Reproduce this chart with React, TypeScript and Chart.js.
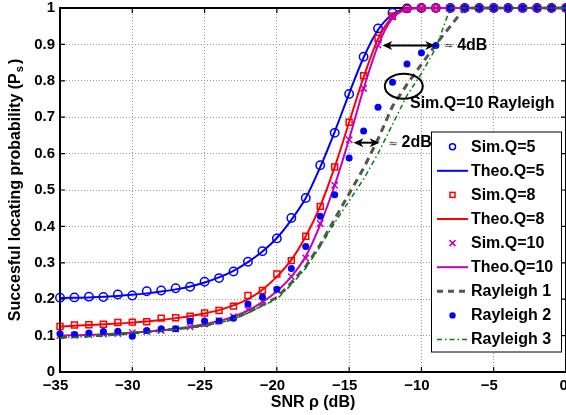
import React, { useEffect, useRef } from "react";
import { Chart, registerables } from "chart.js";

Chart.register(...registerables);

// ---------- data ----------
const snrDb = [-35, -34, -33, -32, -31, -30, -29, -28, -27, -26, -25, -24, -23, -22, -21, -20, -19, -18, -17, -16, -15, -14, -13, -12, -11, -10, -9, -8, -7, -6, -5, -4, -3, -2, -1, 0];

const simQ5 = [0.204, 0.205, 0.207, 0.206, 0.213, 0.210, 0.222, 0.224, 0.230, 0.234, 0.248, 0.258, 0.276, 0.303, 0.332, 0.367, 0.423, 0.478, 0.568, 0.657, 0.764, 0.866, 0.944, 0.987, 0.999, 1, 1, 1, 1, 1, 1, 1, 1, 1, 1, 1];
const theoQ5 = [0.203, 0.204, 0.205, 0.207, 0.209, 0.212, 0.216, 0.221, 0.227, 0.235, 0.246, 0.260, 0.278, 0.302, 0.331, 0.368, 0.418, 0.478, 0.563, 0.660, 0.765, 0.864, 0.940, 0.983, 0.998, 1, 1, 1, 1, 1, 1, 1, 1, 1, 1, 1];
const simQ8 = [0.125, 0.129, 0.130, 0.131, 0.136, 0.137, 0.138, 0.148, 0.149, 0.153, 0.162, 0.169, 0.181, 0.210, 0.224, 0.269, 0.306, 0.373, 0.455, 0.563, 0.686, 0.814, 0.917, 0.978, 0.998, 1, 1, 1, 1, 1, 1, 1, 1, 1, 1, 1];
const theoQ8 = [0.125, 0.127, 0.129, 0.131, 0.133, 0.136, 0.139, 0.143, 0.148, 0.154, 0.161, 0.170, 0.183, 0.200, 0.226, 0.262, 0.308, 0.373, 0.456, 0.563, 0.686, 0.810, 0.915, 0.976, 0.997, 1, 1, 1, 1, 1, 1, 1, 1, 1, 1, 1];
const simQ10 = [0.100, 0.101, 0.103, 0.104, 0.106, 0.108, 0.111, 0.114, 0.118, 0.124, 0.132, 0.141, 0.152, 0.172, 0.195, 0.225, 0.262, 0.313, 0.408, 0.513, 0.638, 0.779, 0.898, 0.975, 0.996, 1, 1, 1, 1, 1, 1, 1, 1, 1, 1, 1];
const theoQ10 = [0.100, 0.101, 0.102, 0.104, 0.106, 0.108, 0.111, 0.114, 0.118, 0.124, 0.131, 0.140, 0.152, 0.169, 0.192, 0.222, 0.262, 0.318, 0.405, 0.513, 0.640, 0.778, 0.897, 0.972, 0.996, 1, 1, 1, 1, 1, 1, 1, 1, 1, 1, 1];
const rayleigh1 = [0.095, 0.097, 0.099, 0.101, 0.104, 0.107, 0.110, 0.114, 0.118, 0.123, 0.128, 0.136, 0.146, 0.164, 0.184, 0.205, 0.245, 0.290, 0.350, 0.420, 0.490, 0.560, 0.640, 0.730, 0.790, 0.845, 0.900, 0.950, 1, 1, 1, 1, 1, 1, 1, 1];
const rayleigh2 = [0.105, 0.103, 0.107, 0.111, 0.112, 0.098, 0.114, 0.119, 0.119, 0.140, 0.140, 0.140, 0.148, 0.187, 0.206, 0.227, 0.284, 0.345, 0.428, 0.487, 0.588, 0.662, 0.727, 0.796, 0.846, 0.877, 0.897, 1, 1, 1, 1, 1, 1, 1, 1, 1];
const rayleigh3 = [0.094, 0.096, 0.098, 0.100, 0.103, 0.106, 0.109, 0.113, 0.117, 0.122, 0.127, 0.135, 0.145, 0.162, 0.182, 0.200, 0.240, 0.285, 0.345, 0.410, 0.470, 0.530, 0.600, 0.680, 0.760, 0.820, 0.890, 1, 1, 1, 1, 1, 1, 1, 1, 1];

const legendLabels = ["Sim.Q=5", "Theo.Q=5", "Sim.Q=8", "Theo.Q=8", "Sim.Q=10", "Theo.Q=10", "Rayleigh 1", "Rayleigh 2", "Rayleigh 3"];
const xTitle = "SNR \u03c1 (dB)";
const yTitleMain = "Succesful locating probability (P";
const yTitleSub = "s";
const yTitleEnd = ")";

// annotations, in data units
const arrow4dB = { from: -12.7, to: -9.05, y: 0.897, label: "4dB" };
const arrow2dB = { from: -14.7, to: -12.9, y: 0.63, label: "2dB" };
const ellipseMark = { x: -11.22, y: 0.785 };
const ellipseText = { x: -10.79, y: 0.738, label: "Sim.Q=10 Rayleigh" };

// ---------- styles ----------
const FONT = '"Liberation Sans", Arial, Helvetica, sans-serif';
const BLUE = "#0000ff";
const RED = "#ff0000";
const MAG = "#c400c4";
const GRAY = "#555555";
const GREEN = "#008000";

type Kind = "circle" | "line" | "rect" | "cross" | "dashed" | "dot" | "dashdot";
const legendKinds: { kind: Kind; color: string }[] = [
  { kind: "circle", color: BLUE },
  { kind: "line", color: BLUE },
  { kind: "rect", color: RED },
  { kind: "line", color: RED },
  { kind: "cross", color: MAG },
  { kind: "line", color: MAG },
  { kind: "dashed", color: GRAY },
  { kind: "dot", color: BLUE },
  { kind: "dashdot", color: GREEN },
];

const pts = (arr: number[]) => snrDb.map((x, i) => ({ x, y: arr[i] }));

const overlayPlugin = {
  id: "overlay",
  beforeDatasetsDraw(chart: any) {
    const { ctx, chartArea: ca, scales } = chart;
    ctx.save();
    ctx.strokeStyle = "#000";
    ctx.lineWidth = 2;
    ctx.setLineDash([]);
    ctx.strokeRect(ca.left, ca.top, ca.right - ca.left, ca.bottom - ca.top);
    ctx.lineWidth = 1.2;
    const tl = 5;
    scales.x.ticks.forEach((t: any) => {
      const px = scales.x.getPixelForValue(t.value);
      ctx.beginPath();
      ctx.moveTo(px, ca.bottom);
      ctx.lineTo(px, ca.bottom - tl);
      ctx.moveTo(px, ca.top);
      ctx.lineTo(px, ca.top + tl);
      ctx.stroke();
    });
    scales.y.ticks.forEach((t: any) => {
      const py = scales.y.getPixelForValue(t.value);
      ctx.beginPath();
      ctx.moveTo(ca.left, py);
      ctx.lineTo(ca.left + tl, py);
      ctx.moveTo(ca.right, py);
      ctx.lineTo(ca.right - tl, py);
      ctx.stroke();
    });
    ctx.restore();
  },
  afterDraw(chart: any) {
    const { ctx, chartArea: ca, scales } = chart;
    const xs = scales.x;
    const ys = scales.y;
    ctx.save();
    ctx.fillStyle = "#000";
    ctx.strokeStyle = "#000";

    // x title
    ctx.font = `bold 16px ${FONT}`;
    ctx.textAlign = "center";
    ctx.textBaseline = "alphabetic";
    ctx.fillText(xTitle, (ca.left + ca.right) / 2, 407);

    // y title with subscript
    ctx.save();
    ctx.translate(20, (ca.top + ca.bottom) / 2);
    ctx.rotate(-Math.PI / 2);
    ctx.textAlign = "left";
    ctx.font = `bold 16px ${FONT}`;
    const w1 = ctx.measureText(yTitleMain).width;
    const w3 = ctx.measureText(yTitleEnd).width;
    ctx.font = `bold 11px ${FONT}`;
    const w2 = ctx.measureText(yTitleSub).width;
    const total = w1 + w2 + 3 + w3;
    let tx = -total / 2;
    ctx.font = `bold 16px ${FONT}`;
    ctx.fillText(yTitleMain, tx, 0);
    tx += w1 + 1;
    ctx.font = `bold 11px ${FONT}`;
    ctx.fillText(yTitleSub, tx, 3);
    tx += w2 + 2;
    ctx.font = `bold 16px ${FONT}`;
    ctx.fillText(yTitleEnd, tx, 0);
    ctx.restore();

    // double arrows
    const drawHead = (tipX: number, y: number, dir: number) => {
      ctx.beginPath();
      ctx.moveTo(tipX, y);
      ctx.lineTo(tipX + dir * 10, y - 4.5);
      ctx.lineTo(tipX + dir * 7, y);
      ctx.lineTo(tipX + dir * 10, y + 4.5);
      ctx.closePath();
      ctx.fill();
    };
    const drawArrow = (a: { from: number; to: number; y: number; label: string }) => {
      const x1 = xs.getPixelForValue(a.from);
      const x2 = xs.getPixelForValue(a.to);
      const y = ys.getPixelForValue(a.y);
      ctx.lineWidth = 2;
      ctx.beginPath();
      ctx.moveTo(x1 + 6, y);
      ctx.lineTo(x2 - 6, y);
      ctx.stroke();
      drawHead(x1, y, 1);
      drawHead(x2, y, -1);
      ctx.textAlign = "left";
      ctx.textBaseline = "middle";
      ctx.fillStyle = "#333";
      ctx.font = `11px "DejaVu Sans", ${FONT}`;
      ctx.fillText("\u2248", x2 + 9, y + 1);
      ctx.fillStyle = "#000";
      ctx.font = `bold 16px ${FONT}`;
      ctx.fillText(a.label, x2 + 22, y);
    };
    drawArrow(arrow4dB);
    drawArrow(arrow2dB);

    // ellipse + text
    ctx.lineWidth = 2;
    ctx.beginPath();
    ctx.ellipse(xs.getPixelForValue(ellipseMark.x), ys.getPixelForValue(ellipseMark.y), 19, 12.5, 0, 0, Math.PI * 2);
    ctx.stroke();
    ctx.font = `bold 16px ${FONT}`;
    ctx.textAlign = "left";
    ctx.textBaseline = "middle";
    ctx.fillText(ellipseText.label, xs.getPixelForValue(ellipseText.x), ys.getPixelForValue(ellipseText.y));

    // legend
    const lx = 431.5, ly = 132, lw = 130, lh = 220;
    ctx.fillStyle = "#fff";
    ctx.fillRect(lx, ly, lw, lh);
    ctx.lineWidth = 1;
    ctx.strokeStyle = "#000";
    ctx.strokeRect(lx, ly, lw, lh);
    const rowH = 24.1;
    legendLabels.forEach((lab, i) => {
      const y = 146.7 + i * rowH;
      const k = legendKinds[i];
      const mx = 452.5;
      ctx.save();
      ctx.strokeStyle = k.color;
      ctx.fillStyle = k.color;
      ctx.setLineDash([]);
      if (k.kind === "circle") {
        ctx.lineWidth = 1.5;
        ctx.beginPath();
        ctx.arc(mx, y, 3, 0, Math.PI * 2);
        ctx.stroke();
      } else if (k.kind === "rect") {
        ctx.lineWidth = 1.5;
        ctx.strokeRect(mx - 2.5, y - 2.5, 5, 5);
      } else if (k.kind === "cross") {
        ctx.lineWidth = 1.5;
        ctx.beginPath();
        ctx.moveTo(mx - 3, y - 3);
        ctx.lineTo(mx + 3, y + 3);
        ctx.moveTo(mx + 3, y - 3);
        ctx.lineTo(mx - 3, y + 3);
        ctx.stroke();
      } else if (k.kind === "dot") {
        ctx.beginPath();
        ctx.arc(mx, y, 3.2, 0, Math.PI * 2);
        ctx.fill();
      } else {
        if (k.kind === "dashed") {
          ctx.lineWidth = 3;
          ctx.setLineDash([6, 5]);
        } else if (k.kind === "dashdot") {
          ctx.lineWidth = 1.5;
          ctx.setLineDash([5, 3, 1.5, 3]);
        } else {
          ctx.lineWidth = 2;
        }
        ctx.beginPath();
        ctx.moveTo(437, y);
        ctx.lineTo(468, y);
        ctx.stroke();
      }
      ctx.restore();
      ctx.fillStyle = "#000";
      ctx.font = `bold 16px ${FONT}`;
      ctx.textAlign = "left";
      ctx.textBaseline = "middle";
      ctx.fillText(lab, 471, y + 0.5);
    });
    ctx.restore();
  },
};

export default function App() {
  const ref = useRef<HTMLCanvasElement | null>(null);
  useEffect(() => {
    document.body.style.margin = "0";
    document.body.style.overflow = "hidden";
    const canvas = ref.current;
    if (!canvas) return;
    const tickFont = { family: FONT, size: 15, weight: "bold" as const };
    const chart = new Chart(canvas, {
      type: "line",
      data: {
        datasets: [
          { label: legendLabels[0], data: pts(simQ5), showLine: false, pointStyle: "circle", pointRadius: 4.2, pointBorderWidth: 1.5, pointBorderColor: BLUE, pointBackgroundColor: "rgba(0,0,0,0)", borderColor: BLUE, order: 10, clip: false },
          { label: legendLabels[1], data: pts(theoQ5), pointRadius: 0, borderWidth: 2, borderColor: BLUE, cubicInterpolationMode: "monotone", fill: false, order: 9, clip: false },
          { label: legendLabels[2], data: pts(simQ8), showLine: false, pointStyle: "rect", pointRadius: 4.2, pointBorderWidth: 1.5, pointBorderColor: RED, pointBackgroundColor: "rgba(0,0,0,0)", borderColor: RED, order: 8, clip: false },
          { label: legendLabels[3], data: pts(theoQ8), pointRadius: 0, borderWidth: 2, borderColor: RED, cubicInterpolationMode: "monotone", fill: false, order: 7, clip: false },
          { label: legendLabels[4], data: pts(simQ10), showLine: false, pointStyle: "crossRot", pointRadius: 4.5, pointBorderWidth: 1.5, pointBorderColor: MAG, borderColor: MAG, order: 6, clip: false },
          { label: legendLabels[5], data: pts(theoQ10), pointRadius: 0, borderWidth: 2, borderColor: MAG, cubicInterpolationMode: "monotone", fill: false, order: 5, clip: false },
          { label: legendLabels[6], data: pts(rayleigh1), pointRadius: 0, borderWidth: 3, borderColor: GRAY, borderDash: [7, 5], tension: 0, fill: false, order: 4, clip: false },
          { label: legendLabels[7], data: pts(rayleigh2), showLine: false, pointStyle: "circle", pointRadius: 3.5, pointBorderWidth: 0, pointBackgroundColor: BLUE, pointBorderColor: BLUE, borderColor: BLUE, order: 3, clip: false },
          { label: legendLabels[8], data: pts(rayleigh3), pointRadius: 0, borderWidth: 1.5, borderColor: GREEN, borderDash: [5, 3, 1.5, 3], tension: 0, fill: false, order: 2, clip: false },
        ] as any,
      },
      options: {
        animation: false,
        responsive: false,
        devicePixelRatio: 1,
        events: [],
        layout: { padding: { top: 8, left: 0, right: 0, bottom: 0 }, autoPadding: false } as any,
        plugins: { legend: { display: false }, tooltip: { enabled: false } },
        scales: {
          x: {
            type: "linear",
            min: -35,
            max: 0,
            ticks: {
              stepSize: 5,
              font: tickFont,
              color: "#000",
              padding: 5,
              labelOffset: -4.5,
              maxRotation: 0,
              autoSkip: false,
              callback: (v: any) => (Number(v) < 0 ? "\u2212" + Math.abs(Number(v)) : " " + String(v)),
            },
            grid: { color: "#9a9a9a", lineWidth: 1, drawTicks: false },
            border: { display: false, dash: [1, 2] },
            afterFit: (s: any) => {
              s.height = 43;
              s.paddingLeft = 0;
              s.paddingRight = 0;
              s.paddingTop = 0;
              s.paddingBottom = 0;
            },
          },
          y: {
            type: "linear",
            min: 0,
            max: 1,
            ticks: {
              stepSize: 0.1,
              font: tickFont,
              color: "#000",
              padding: 5,
              callback: (v: any) => String(Math.round(Number(v) * 10) / 10),
            },
            grid: { color: "#9a9a9a", lineWidth: 1, drawTicks: false },
            border: { display: false, dash: [1, 2] },
            afterFit: (s: any) => {
              s.width = 60;
              s.paddingLeft = 0;
              s.paddingRight = 0;
              s.paddingTop = 0;
              s.paddingBottom = 0;
            },
          },
        } as any,
      },
      plugins: [overlayPlugin],
    });
    return () => chart.destroy();
  }, []);
  return (
    <div style={{ width: 566, height: 415, overflow: "hidden", background: "#fff" }}>
      <canvas ref={ref} width={566} height={415} style={{ display: "block" }} />
    </div>
  );
}
